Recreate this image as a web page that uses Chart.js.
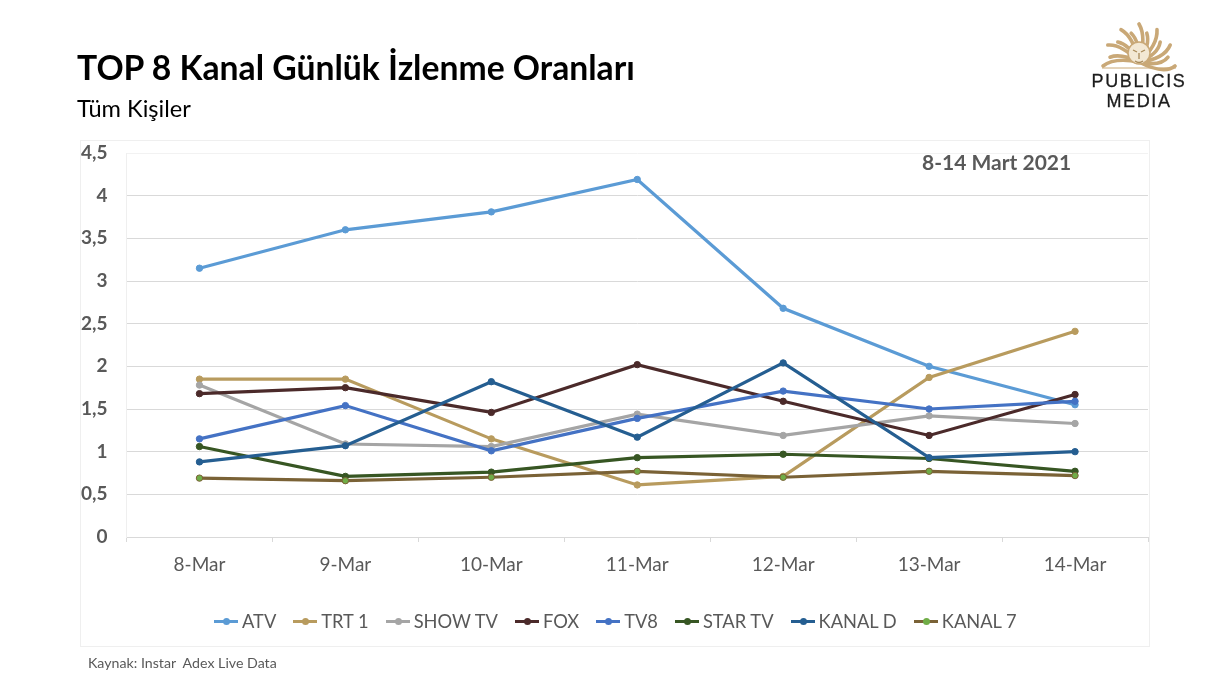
<!DOCTYPE html>
<html lang="tr">
<head>
    <meta charset="UTF-8">
    <title>TOP 8 Kanal Günlük İzlenme Oranları</title>
    <script src="https://cdn.jsdelivr.net/npm/chart.js"></script>
    <style>
        html, body { margin: 0; padding: 0; background: #fff; }
        body { width: 1230px; height: 686px; position: relative; overflow: hidden; font-family: Lato, sans-serif; }
        canvas { position: absolute; left: 0; top: 0; }
        .abs { position: absolute; white-space: nowrap; }
        #title { left: 77px; top: 48px; font-size: 33.7px; font-weight: 700; color: #000; line-height: 38px; }
        #subtitle { left: 77px; top: 95px; font-size: 23.6px; color: #000; line-height: 27px; }
        #dateLabel { left: 922px; top: 149px; font-size: 21px; font-weight: 700; color: #595959; line-height: 26px; }
        #source { left: 88px; top: 655px; font-size: 14.2px; color: #595959; line-height: 16px; }
        #frame { left: 80px; top: 140px; width: 1068px; height: 505px; border: 1px solid #efefef; }
        #legend { left: 214px; top: 610px; display: flex; font-size: 18.3px; color: #595959; line-height: 22px; }
        .legend-item { display: flex; align-items: center; margin-right: 17px; }
        .legend-key { position: relative; width: 24px; height: 3px; margin-right: 4px; }
        .legend-key i { position: absolute; left: 9px; top: -2px; width: 7px; height: 7px; border-radius: 50%; }
        #logoText { left: 1069px; top: 71px; width: 140px; text-align: center; font-family: "Liberation Sans", sans-serif;
            font-size: 18px; color: #1c1c1c; line-height: 20px; letter-spacing: 1.6px; -webkit-text-stroke: 0.3px #1c1c1c; }
    </style>
</head>
<body>

<div id="frame" class="abs"></div>
<canvas id="ratingsChart" width="1230" height="686" style="width:1230px;height:686px"></canvas>

<div id="title" class="abs">TOP 8 Kanal Günlük İzlenme Oranları</div>
<div id="subtitle" class="abs">Tüm Kişiler</div>
<div id="dateLabel" class="abs">8-14 Mart 2021</div>
<div id="legend" class="abs"></div>
<div id="source" class="abs">Kaynak: Instar&nbsp; Adex Live Data</div>

<!-- logo, rough sun shape -->
<svg class="abs" id="logoSun" style="left:1100px;top:22px" width="80" height="50" viewBox="0 0 80 50"></svg>
<div id="logoText" class="abs">PUBLICIS<br>MEDIA</div>

<script>
    // Categories and tick labels
    const days = ['8-Mar', '9-Mar', '10-Mar', '11-Mar', '12-Mar', '13-Mar', '14-Mar'];
    const yTicks = [0, 0.5, 1, 1.5, 2, 2.5, 3, 3.5, 4, 4.5];

    // Daily ratings
    const atv = [3.15, 3.60, 3.81, 4.19, 2.68, 2.00, 1.55];
    const trt1 = [1.85, 1.85, 1.15, 0.61, 0.71, 1.87, 2.41];
    const showTv = [1.78, 1.09, 1.06, 1.44, 1.19, 1.42, 1.33];
    const fox = [1.68, 1.75, 1.46, 2.02, 1.59, 1.19, 1.67];
    const tv8 = [1.15, 1.54, 1.01, 1.39, 1.71, 1.50, 1.59];
    const starTv = [1.06, 0.71, 0.76, 0.93, 0.97, 0.92, 0.77];
    const kanalD = [0.88, 1.07, 1.82, 1.17, 2.04, 0.93, 1.00];
    const kanal7 = [0.69, 0.66, 0.70, 0.77, 0.70, 0.77, 0.72];

    function series(label, data, color, pointColor) {
        return {
            label: label,
            data: data,
            borderColor: color,
            backgroundColor: color,
            borderWidth: 3.2,
            pointRadius: 3.2,
            pointBorderWidth: 1,
            pointBorderColor: color,
            pointBackgroundColor: pointColor || color,
            tension: 0
        };
    }

    const datasets = [
        series('ATV', atv, '#5b9bd5'),
        series('TRT 1', trt1, '#b89b5e'),
        series('SHOW TV', showTv, '#a5a5a5'),
        series('FOX', fox, '#4b2a2a'),
        series('TV8', tv8, '#4472c4'),
        series('STAR TV', starTv, '#375623'),
        series('KANAL D', kanalD, '#255e91'),
        series('KANAL 7', kanal7, '#7a6236', '#70ad47')
    ];
    // Later series are drawn on top, like in the original
    datasets.forEach((d, i) => { d.order = datasets.length - i; });

    new Chart(document.getElementById('ratingsChart').getContext('2d'), {
        type: 'line',
        data: { labels: days, datasets: datasets },
        options: {
            responsive: false,
            animation: false,
            devicePixelRatio: 1,
            layout: { padding: { left: 80, right: 82, top: 153, bottom: 109 } },
            plugins: { legend: { display: false }, tooltip: { enabled: false } },
            scales: {
                x: {
                    offset: true,
                    afterFit: scale => { scale.height = 40; },
                    grid: { offset: true, drawOnChartArea: false, drawTicks: true, tickLength: 5, color: '#d9d9d9' },
                    border: { color: '#d9d9d9' },
                    ticks: { color: '#595959', font: { family: 'Lato', size: 19 }, padding: 11, maxRotation: 0 }
                },
                y: {
                    min: 0,
                    max: 4.5,
                    afterFit: scale => { scale.width = 46.5; },
                    afterBuildTicks: scale => { scale.ticks = yTicks.map(v => ({ value: v })); },
                    grid: {
                        drawTicks: false,
                        color: c => (c.tick && c.tick.value === 4.5 ? '#f2f2f2' : '#d9d9d9')
                    },
                    border: { color: '#efefef' },
                    ticks: {
                        color: '#595959',
                        font: { family: 'Lato', size: 19, weight: '700' },
                        padding: 19,
                        callback: v => String(v).replace('.', ',')
                    }
                }
            }
        }
    });

    // Legend keeps the line + dot key of the original
    const legend = document.getElementById('legend');
    datasets.forEach(d => {
        const item = document.createElement('div');
        item.className = 'legend-item';
        item.innerHTML = '<span class="legend-key" style="background:' + d.borderColor + '"><i style="background:' +
            d.pointBackgroundColor + '"></i></span><span>' + d.label + '</span>';
        legend.appendChild(item);
    });

    // Logo sun rays
    const gold = '#c9a877';
    let sun = '<line x1="2" y1="46" x2="76" y2="46" stroke="' + gold + '" stroke-width="1"/>';
    for (let a = -180; a <= 0; a += 15) {
        const r = a * Math.PI / 180;
        const rx = (a / 15) % 2 === 0 ? 36 : 30;
        const ry = (a / 15) % 2 === 0 ? 42 : 34;
        const ex = 39 + rx * Math.cos(r);
        const ey = 44 + ry * Math.sin(r);
        const cx = 39 + rx * 0.72 * Math.cos(r + 0.3);
        const cy = 44 + ry * 0.72 * Math.sin(r + 0.3);
        sun += '<path d="M39 40 Q' + cx.toFixed(1) + ' ' + cy.toFixed(1) + ' ' + ex.toFixed(1) + ' ' + ey.toFixed(1) +
            '" fill="none" stroke="' + gold + '" stroke-width="3.6" stroke-linecap="round"/>';
    }
    sun += '<circle cx="39" cy="31" r="11" fill="#f3e8d4" stroke="' + gold + '" stroke-width="1.5"/>' +
        '<path d="M33 28 L37 30 M45 28 L41 30 M39 31 L39 37 M35 39 Q39 42 43 39" fill="none" stroke="#a98a5a" stroke-width="1.3"/>';
    document.getElementById('logoSun').innerHTML = sun;
</script>

</body>
</html>
